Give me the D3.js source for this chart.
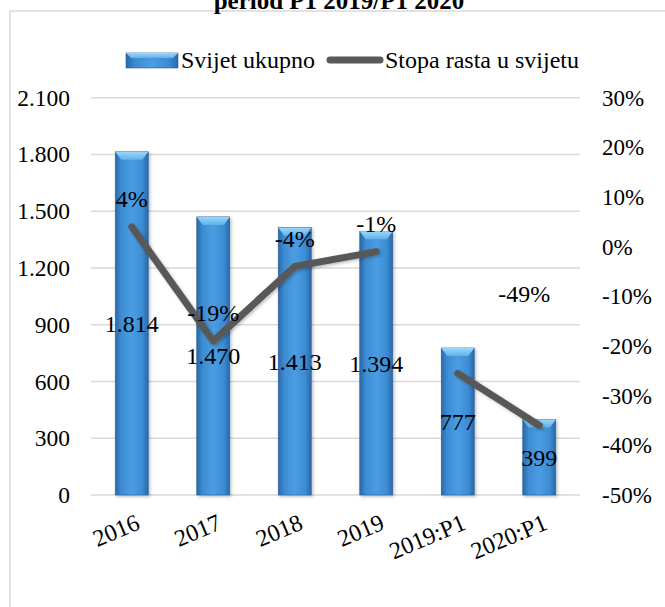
<!DOCTYPE html>
<html>
<head>
<meta charset="utf-8">
<script src="https://cdn.jsdelivr.net/npm/d3@7"></script>
<style>
    body { margin: 0; background: #fff; }
    text { font-family: "Liberation Serif", "Times New Roman", serif; fill: #000; }
</style>
</head>
<body>
<div id="chart"></div>
<script>
const dim = {
    width: 665,
    height: 607
}

// data
const categories = ['2016', '2017', '2018', '2019', '2019:P1', '2020:P1']
const totals = [1814, 1470, 1413, 1394, 777, 399]
const rates = [4, -19, -4, -1, -25.5, -36]
const rateLabels = ['4%', '-19%', '-4%', '-1%', '', '-49%']
const lineSegments = [['2016', '2017', '2018', '2019'], ['2019:P1', '2020:P1']]
const leftTicks = [0, 300, 600, 900, 1200, 1500, 1800, 2100]
const rightTicks = [-50, -40, -30, -20, -10, 0, 10, 20, 30]
const legendNames = ['Svijet ukupno', 'Stopa rasta u svijetu']

const plot = { left: 91, right: 580, top: 97.7, bottom: 495 }

const svg = d3.select('#chart')
    .append('svg')
        .attr('width', dim.width)
        .attr('height', dim.height)

const defs = svg.append('defs')

const barGrad = defs.append('linearGradient')
    .attr('id', 'barGrad')
    .attr('x1', '0%').attr('x2', '100%')
barGrad.selectAll('stop')
    .data([['0%', '#2a68a8'], ['18%', '#3d8cd3'], ['50%', '#4b9de2'], ['82%', '#3d8cd3'], ['100%', '#2a68a8']])
    .join('stop')
        .attr('offset', d => d[0])
        .attr('stop-color', d => d[1])

const capGrad = defs.append('linearGradient')
    .attr('id', 'capGrad')
    .attr('x1', '0%').attr('x2', '0%').attr('y1', '0%').attr('y2', '100%')
capGrad.selectAll('stop')
    .data([['0%', '#9ad6fa'], ['100%', '#5fb2ec']])
    .join('stop')
        .attr('offset', d => d[0])
        .attr('stop-color', d => d[1])

const shadow = defs.append('filter')
    .attr('id', 'shadow')
    .attr('x', '-20%').attr('y', '-20%').attr('width', '140%').attr('height', '140%')
shadow.append('feDropShadow')
    .attr('dx', 1.5).attr('dy', 1.5).attr('stdDeviation', 1.5)
    .attr('flood-color', '#000').attr('flood-opacity', 0.25)

// frame
svg.append('rect')
    .attr('x', 10)
    .attr('y', 11)
    .attr('width', 700)
    .attr('height', 650)
    .attr('fill', 'none')
    .attr('stroke', '#d9d9d9')
    .attr('stroke-width', 1.5)

// title (its top is cut off in the original as well)
svg.append('text')
    .attr('x', 339)
    .attr('y', 9)
    .attr('text-anchor', 'middle')
    .style('font-size', '25px')
    .style('font-weight', 'bold')
    .text('period P1 2019/P1 2020')

// scales
const xScale = d3.scaleBand()
    .domain(categories)
    .range([plot.left, plot.right])
    .paddingInner(0.595)
    .paddingOuter(0.2975)

const yLeft = d3.scaleLinear()
    .domain([0, 2100])
    .range([plot.bottom, plot.top])

const yRight = d3.scaleLinear()
    .domain([-50, 30])
    .range([plot.bottom, plot.top])

const locale = d3.formatLocale({ decimal: ',', thousands: '.', grouping: [3], currency: ['', ''] })
const fmt = locale.format(',d')
const cx = c => xScale(c) + xScale.bandwidth() / 2

// gridlines
svg.append('g')
    .selectAll('line')
    .data(leftTicks)
    .join('line')
        .attr('x1', plot.left)
        .attr('x2', plot.right)
        .attr('y1', d => yLeft(d))
        .attr('y2', d => yLeft(d))
        .attr('stroke', '#d9d9d9')
        .attr('stroke-width', 1.5)

// left axis
const leftAxis = svg.append('g')
    .attr('transform', `translate(${plot.left}, 0)`)
    .call(d3.axisLeft(yLeft).tickValues(leftTicks).tickFormat(fmt).tickSize(0).tickPadding(21))
    .attr('font-family', null)
    .attr('font-size', null)
leftAxis.select('.domain').remove()
leftAxis.selectAll('text')
    .style('font-size', '23.5px')

// right axis
const rightAxis = svg.append('g')
    .attr('transform', `translate(${plot.right}, 0)`)
    .call(d3.axisRight(yRight).tickValues(rightTicks).tickFormat(d => d + '%').tickSize(0).tickPadding(22))
    .attr('font-family', null)
    .attr('font-size', null)
rightAxis.select('.domain').remove()
rightAxis.selectAll('text')
    .style('font-size', '23px')

// x labels
svg.append('g')
    .selectAll('text')
    .data(categories)
    .join('text')
        .attr('transform', d => `translate(${cx(d) + 3}, 513) rotate(-23)`)
        .attr('text-anchor', 'end')
        .attr('dy', '0.7em')
        .style('font-size', '24px')
        .text(d => d)

// bars
const barData = categories.map((c, i) => ({ cat: c, value: totals[i] }))
const bars = svg.append('g')
    .attr('class', 'mainBars')
    .selectAll('g')
    .data(barData)
    .join('g')
        .attr('filter', 'url(#shadow)')

bars.append('rect')
    .attr('x', d => xScale(d.cat))
    .attr('y', d => yLeft(d.value))
    .attr('width', xScale.bandwidth())
    .attr('height', d => yLeft(0) - yLeft(d.value))
    .attr('fill', 'url(#barGrad)')
    .attr('stroke', '#2a5f96')
    .attr('stroke-width', 0.6)

bars.append('path')
    .attr('d', d => {
        const x0 = xScale(d.cat)
        const x1 = x0 + xScale.bandwidth()
        const y0 = yLeft(d.value)
        return `M${x0},${y0}L${x1},${y0}L${x1 - 6},${y0 + 8}L${x0 + 6},${y0 + 8}Z`
    })
    .attr('fill', 'url(#capGrad)')

// bar labels
svg.append('g')
    .selectAll('text')
    .data(barData)
    .join('text')
        .attr('x', d => cx(d.cat))
        .attr('y', d => (yLeft(d.value) + yLeft(0)) / 2)
        .attr('dy', '0.35em')
        .attr('text-anchor', 'middle')
        .style('font-size', '24px')
        .text(d => fmt(d.value))

// growth line
const rateData = categories.map((c, i) => ({ cat: c, value: rates[i], label: rateLabels[i] }))
const line = d3.line()
    .x(d => cx(d.cat))
    .y(d => yRight(d.value))

svg.append('g')
    .attr('filter', 'url(#shadow)')
    .selectAll('path')
    .data(lineSegments.map(seg => rateData.filter(d => seg.includes(d.cat))))
    .join('path')
        .attr('d', line)
        .attr('fill', 'none')
        .attr('stroke', '#595959')
        .attr('stroke-width', 7)
        .attr('stroke-linejoin', 'round')
        .attr('stroke-linecap', 'round')

// line labels (last one was dragged away from its point)
svg.append('g')
    .selectAll('text')
    .data(rateData.filter(d => d.label !== ''))
    .join('text')
        .attr('x', d => d.cat === '2020:P1' ? cx(d.cat) - 15 : cx(d.cat))
        .attr('y', d => d.cat === '2020:P1' ? yRight(-9.5) : yRight(d.value) - 28)
        .attr('dy', '0.35em')
        .attr('text-anchor', 'middle')
        .style('font-size', '24px')
        .text(d => d.label)

// legend
const legendY = 60
const legend = svg.append('g')
legend.append('rect')
    .attr('x', 126).attr('y', legendY - 7)
    .attr('width', 52).attr('height', 15)
    .attr('fill', 'url(#barGrad)')
    .attr('stroke', '#2a5f96')
    .attr('stroke-width', 0.6)
legend.append('path')
    .attr('d', `M126,${legendY - 7}L178,${legendY - 7}L173,${legendY - 2}L131,${legendY - 2}Z`)
    .attr('fill', 'url(#capGrad)')
legend.append('text')
    .attr('x', 181).attr('y', legendY)
    .attr('dy', '0.35em')
    .style('font-size', '24px')
    .text(legendNames[0])
legend.append('line')
    .attr('x1', 330).attr('x2', 380)
    .attr('y1', legendY).attr('y2', legendY)
    .attr('stroke', '#595959')
    .attr('stroke-width', 7)
    .attr('stroke-linecap', 'round')
legend.append('text')
    .attr('x', 385).attr('y', legendY)
    .attr('dy', '0.35em')
    .style('font-size', '24px')
    .text(legendNames[1])
</script>
</body>
</html>
